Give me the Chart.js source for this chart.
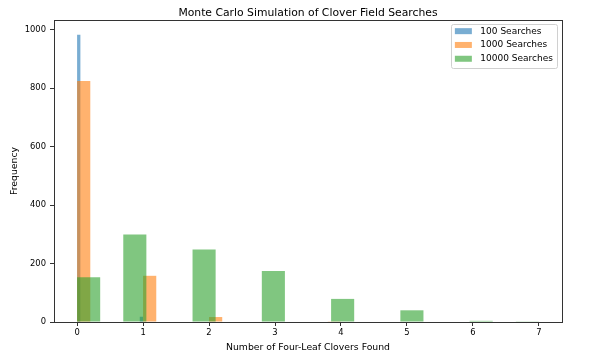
<!DOCTYPE html>
<html><head><meta charset="utf-8">
<script src="https://cdn.jsdelivr.net/npm/chart.js@4.4.0/dist/chart.umd.min.js"></script>
<style>html,body{margin:0;padding:0;background:#fff;}#wrap{width:589px;height:357px;}</style>
</head><body><div id="wrap"><canvas id="c" width="589" height="357"></canvas></div>
<script>
const chartTitle = 'Monte Carlo Simulation of Clover Field Searches';
const xTitle = 'Number of Four-Leaf Clovers Found';
const yTitle = 'Frequency';
const seriesLabels = ['100 Searches', '1000 Searches', '10000 Searches'];
const binCount = 20;
const binRange100 = [0, 1];
const binRange1000 = [0, 4];
const binRange10000 = [0, 7];
const counts100   = [982,0,0,0,0,0,0,0,0,0,0,0,0,0,0,0,0,0,0,18];
const counts1000  = [824,0,0,0,0,158,0,0,0,0,17,0,0,0,0,0,0,0,0,1];
const counts10000 = [153,0,299,0,0,248,0,0,174,0,0,79,0,0,40,0,0,4,0,1];
const xTicks = [0,1,2,3,4,5,6,7];
const yTicks = [0,200,400,600,800,1000];
const xLimits = [-0.35, 7.35];
const yLimits = [0, 1033];
const seriesColors = ['rgba(31,119,180,0.6)','rgba(255,127,14,0.6)','rgba(44,160,44,0.6)'];
const FONT = "'DejaVu Sans', sans-serif";

function toPoints(range, counts) {
  const w = (range[1] - range[0]) / binCount;
  return counts.map((c, i) => ({ x: range[0] + w * (i + 0.5), y: c }));
}

function hiddenAxis() {
  return { type: 'linear', display: false, offset: false, min: xLimits[0], max: xLimits[1],
    grid: { offset: false },
    afterBuildTicks: s => { s.ticks = xTicks.map(v => ({ value: v })); } };
}

const legendFrame = {
  id: 'legendFrame',
  afterDatasetsDraw(chart) {
    const { ctx, chartArea: a } = chart;
    ctx.save();
    ctx.strokeStyle = '#333';
    ctx.lineWidth = 1;
    ctx.strokeRect(Math.round(a.left) + 0.5, Math.round(a.top) + 0.5, Math.round(a.right - a.left), Math.round(a.bottom - a.top));
    ctx.font = '9px ' + FONT;
    const tw = Math.max(...seriesLabels.map(t => ctx.measureText(t).width));
    const w = 29 + tw + 4, h = 44;
    const x = a.right - 5 - w, y = a.top + 4;
    ctx.fillStyle = 'rgba(255,255,255,0.8)';
    ctx.strokeStyle = '#d0d0d0';
    ctx.beginPath();
    ctx.roundRect(Math.round(x) + 0.5, Math.round(y) + 0.5, Math.round(w), h, 2);
    ctx.fill(); ctx.stroke();
    seriesLabels.forEach((t, i) => {
      const cy = y + 7.2 + i * 13.8;
      ctx.fillStyle = seriesColors[i];
      ctx.fillRect(x + 3.5, cy - 3, 17, 6);
      ctx.fillStyle = '#000';
      ctx.textBaseline = 'middle';
      ctx.textAlign = 'left';
      ctx.fillText(t, x + 29, cy);
    });
    ctx.restore();
  }
};

new Chart(document.getElementById('c'), {
  type: 'bar',
  data: {
    datasets: [
      { label: seriesLabels[0], data: toPoints(binRange100, counts100), xAxisID: 'x100', backgroundColor: seriesColors[0], order: 2 },
      { label: seriesLabels[1], data: toPoints(binRange1000, counts1000), xAxisID: 'x1000', backgroundColor: seriesColors[1], order: 1 },
      { label: seriesLabels[2], data: toPoints(binRange10000, counts10000), xAxisID: 'x', backgroundColor: seriesColors[2], order: 0 }
    ]
  },
  options: {
    responsive: false,
    animation: false,
    devicePixelRatio: 1,
    layout: { padding: { left: 0, right: 27, top: 0, bottom: 0 } },
    datasets: { bar: { grouped: false, categoryPercentage: 1, barPercentage: 1, borderWidth: 0, inflateAmount: 0 } },
    plugins: {
      legend: { display: false },
      tooltip: { enabled: false },
      title: { display: true, fullSize: false, text: chartTitle, color: '#000', font: { family: FONT, size: 10.8, weight: 'normal' }, padding: { top: 6.5, bottom: 0.5 } }
    },
    scales: {
      x: {
        type: 'linear', offset: false, min: xLimits[0], max: xLimits[1],
        afterBuildTicks: s => { s.ticks = xTicks.map(v => ({ value: v })); },
        afterFit: s => { s.height = 35; },
        grid: { offset: false, drawOnChartArea: false, drawTicks: true, tickLength: 4, color: '#333' },
        border: { display: false },
        ticks: { color: '#000', padding: 2, maxRotation: 0, font: { family: FONT, size: 8.4 }, callback: v => String(v) },
        title: { display: true, text: xTitle, color: '#000', font: { family: FONT, size: 9.3 }, padding: { top: 0, bottom: 3.6 } }
      },
      x100: hiddenAxis(),
      x1000: hiddenAxis(),
      y: {
        type: 'linear', min: yLimits[0], max: yLimits[1],
        afterBuildTicks: s => { s.ticks = yTicks.map(v => ({ value: v })); },
        afterFit: s => { s.width = 54; },
        grid: { drawOnChartArea: false, drawTicks: true, tickLength: 4, color: '#333' },
        border: { display: false },
        ticks: { color: '#000', padding: 4, font: { family: FONT, size: 8.4 }, callback: v => String(v) },
        title: { display: true, text: yTitle, color: '#000', font: { family: FONT, size: 9.3 }, padding: { top: 9.4, bottom: 0 } }
      }
    }
  },
  plugins: [legendFrame]
});
</script>
</body></html>
